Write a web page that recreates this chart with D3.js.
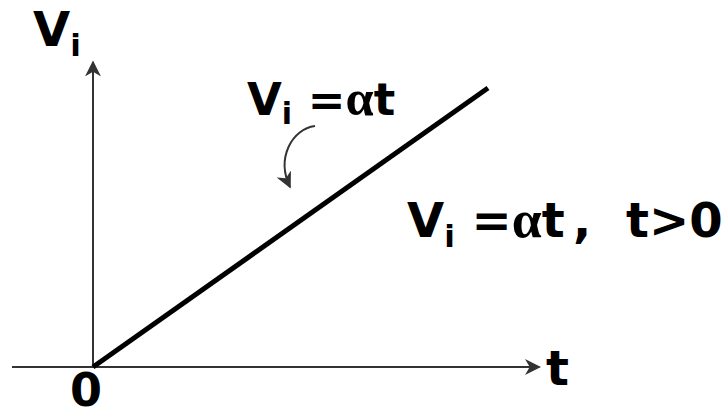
<!DOCTYPE html>
<html><head><meta charset="utf-8">
<script src="https://cdn.jsdelivr.net/npm/d3@7"></script>
<style>body{margin:0;background:#fff;}svg{display:block;}</style>
</head><body>
<svg id="c" width="724" height="411"></svg>
<script>
// Data: input ramp Vi = alpha * t (normalised units)
const tValues = [0, 1];
const viValues = [0, 1];
const xAxisExtent = [-0.205, 1.13];
const yAxisExtent = [0, 1.093];
const originLabel = "0";
const xAxisLabel = "t";
const yAxisLabel = ["V", "i"];
const lineLabel = ["V", "i", " =", "α", "t"];
const eqLabel = ["V", "i", " =", "α", "t"];
const eqSuffix = [",", "t>0"];

const svg = d3.select("#c");
const x = d3.scaleLinear().domain([0, 1]).range([93, 488]);
const y = d3.scaleLinear().domain([0, 1]).range([367, 88]);

const defs = svg.append("defs");
defs.append("marker").attr("id", "ahBig").attr("viewBox", "0 0 10 10")
  .attr("refX", 9).attr("refY", 5).attr("markerWidth", 16).attr("markerHeight", 16)
  .attr("markerUnits", "userSpaceOnUse").attr("orient", "auto")
  .append("path").attr("d", "M0,0 L10,5 L0,10 L3,5 Z").attr("fill", "#333");

// axes
svg.append("line").attr("x1", x(xAxisExtent[0])).attr("y1", y(0))
  .attr("x2", x(xAxisExtent[1])).attr("y2", y(0))
  .attr("stroke", "#333").attr("stroke-width", 2).attr("marker-end", "url(#ahBig)");
svg.append("line").attr("x1", x(0)).attr("y1", y(yAxisExtent[0]))
  .attr("x2", x(0)).attr("y2", y(yAxisExtent[1]))
  .attr("stroke", "#333").attr("stroke-width", 2).attr("marker-end", "url(#ahBig)");

// ramp line
const pts = tValues.map((t, i) => [x(t), y(viValues[i])]);
svg.append("path").attr("d", d3.line()(pts))
  .attr("fill", "none").attr("stroke", "#000").attr("stroke-width", 5);

// curved pointer arrow
svg.append("path").attr("d", "M315,126 C292,129 276,158 290,187")
  .attr("fill", "none").attr("stroke", "#333").attr("stroke-width", 2)
  .attr("marker-end", "url(#ahBig)");

const font = "'DejaVu Sans', sans-serif";
function label(parts, px, py, size, subSize, subDy) {
  const t = svg.append("text").attr("x", px).attr("y", py)
    .attr("font-family", font).attr("font-weight", "bold").attr("font-size", size).attr("fill", "#000");
  parts.forEach((p, i) => {
    const s = t.append("tspan").text(p).style("white-space", "pre");
    if (i === 1) s.attr("font-size", subSize).attr("dy", subDy);
    if (i === 2) s.attr("dy", -subDy);
    if (p === "α") s.attr("font-family", "'Liberation Serif', 'Times New Roman', serif")
      .attr("font-size", size * 1.12);
  });
  t.attr("xml:space", "preserve");
  return t;
}
label(yAxisLabel, 33, 46, 48, 31, 10);
label(lineLabel, 247, 115, 45, 30, 9);
const eq = label(eqLabel, 407, 237, 48, 31, 10);
eq.append("tspan").attr("x", 573).text(eqSuffix[0]);
eq.append("tspan").attr("x", 626).text(eqSuffix[1]);

svg.append("text").attr("x", 70).attr("y", 406).text(originLabel)
  .attr("font-family", font).attr("font-weight", "bold").attr("font-size", 46);
svg.append("text").attr("x", 546).attr("y", 385).text(xAxisLabel)
  .attr("font-family", font).attr("font-weight", "bold").attr("font-size", 48);
</script>
</body></html>
